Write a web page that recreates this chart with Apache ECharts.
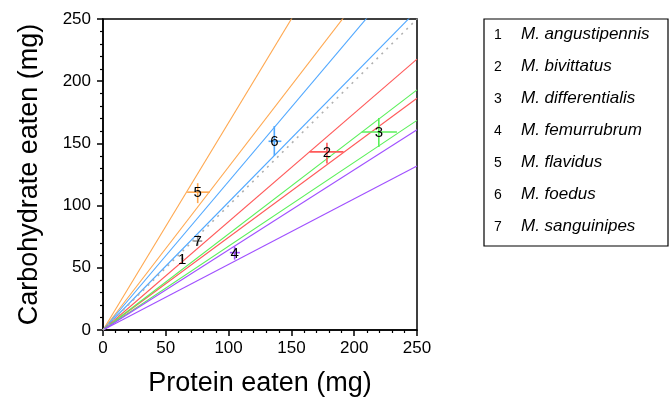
<!DOCTYPE html>
<html><head><meta charset="utf-8">
<script src="https://cdn.jsdelivr.net/npm/echarts@6/dist/echarts.min.js"></script>
<style>html,body{margin:0;padding:0;background:#fff}#c{width:670px;height:402px}</style>
</head><body><div id="c"></div>
<script>
// Species
const speciesNums = ['1','2','3','4','5','6','7'];
const speciesNames = ['M. angustipennis','M. bivittatus','M. differentialis','M. femurrubrum','M. flavidus','M. foedus','M. sanguinipes'];
const speciesColors = ['#999999','#ff5a5a','#5af05a','#a050ff','#ffa850','#50a8ff','#999999'];
// Mean protein (x) and carbohydrate (y) eaten, with error bar ranges
const meanP = [63, 178.3, 219.6, 104.8, 75.4, 136.4, 75.4];
const meanC = [57.4, 143.2, 159.2, 62.2, 110.8, 151.7, 71.5];
const pLow  = [62, 164.5, 206, 101, 67, 131.8, 72];
const pHigh = [64, 191.5, 234, 109, 85, 142, 79];
const cLow  = [55, 133.9, 147.2, 56.6, 102, 140, 68];
const cHigh = [60, 150.6, 170.5, 67, 118, 164, 75];
// Carbohydrate:protein ratio bounds (lines through origin)
const ratioSpecies = [4, 5, 1, 2, 3];   // indices into species arrays
const ratioUpper = [1.667, 1.194, 0.871, 0.772, 0.644];
const ratioLower = [1.311, 1.028, 0.745, 0.674, 0.527];
const equalRatio = 1.0;
const axisTicks = [0, 50, 100, 150, 200, 250];

const chart = echarts.init(document.getElementById('c'), null, {renderer:'canvas'});
const FONT = 'Liberation Sans, Arial, Helvetica, sans-serif';
const gridL = 103, gridT = 19, gridW = 314, gridH = 314;

function ray(r){ return [[0,0],[250, 250*r]]; }

const series = [];
ratioSpecies.forEach((si, k) => {
  [ratioUpper[k], ratioLower[k]].forEach(r => {
    series.push({type:'line', data: ray(r), symbol:'none', clip:true, silent:true,
      lineStyle:{color: speciesColors[si], width:1.1}, z:2});
  });
});
series.push({type:'line', data: ray(equalRatio), symbol:'none', clip:true, silent:true,
  lineStyle:{color:'#b0b0b0', width:1.6, type:[2,5]}, z:2});

const crossData = speciesNums.map((n,i)=>[meanP[i], meanC[i], pLow[i], pHigh[i], cLow[i], cHigh[i], i]);
series.push({
  type:'custom', clip:true, z:5, data: crossData,
  encode:{x:0, y:1},
  renderItem(params, api){
    const i = api.value(6);
    const c = api.coord([api.value(0), api.value(1)]);
    const l = api.coord([api.value(2), api.value(1)]);
    const r = api.coord([api.value(3), api.value(1)]);
    const b = api.coord([api.value(0), api.value(4)]);
    const t = api.coord([api.value(0), api.value(5)]);
    const col = speciesColors[i];
    return {type:'group', children:[
      {type:'line', shape:{x1:l[0], y1:l[1], x2:r[0], y2:r[1]}, style:{stroke:col, lineWidth:1.6}},
      {type:'line', shape:{x1:b[0], y1:b[1], x2:t[0], y2:t[1]}, style:{stroke:col, lineWidth:1.6}},
      {type:'text', x:c[0], y:c[1]+1, style:{text: speciesNums[i], align:'center', verticalAlign:'middle',
        font:'15px ' + FONT, fill:'#000'}, z2:10}
    ]};
  }
});

const axisCommon = {
  type:'value', min:0, max:250, interval:50,
  axisLine:{show:true, onZero:false, lineStyle:{color:'#000', width:1.5}},
  axisTick:{show:true, inside:false, length:6, lineStyle:{color:'#000', width:1.5}},
  minorTick:{show:true, splitNumber:5, length:3, lineStyle:{color:'#000', width:1.2}},
  splitLine:{show:false},
  axisLabel:{color:'#000', fontSize:17, fontFamily:FONT},
  nameTextStyle:{color:'#000', fontSize:27, fontFamily:FONT}
};

const legendChildren = [
  {type:'rect', shape:{x:484, y:19, width:184, height:227}, style:{fill:'#fff', stroke:'#000', lineWidth:1.2}}
];
speciesNums.forEach((n,i)=>{
  const y = 34 + 32*i;
  legendChildren.push({type:'text', x:498, y:y+1, style:{text:n, align:'center', verticalAlign:'middle', font:'14px '+FONT, fill:'#000'}});
  legendChildren.push({type:'text', x:521, y:y, style:{text:speciesNames[i], align:'left', verticalAlign:'middle', font:'italic 17px '+FONT, fill:'#000'}});
});

chart.setOption({
  animation:false,
  backgroundColor:'#fff',
  grid:{left:gridL, top:gridT, width:gridW, height:gridH, show:true, borderColor:'#000', borderWidth:1.5, backgroundColor:'transparent'},
  xAxis: Object.assign({}, axisCommon, {name:'Protein eaten (mg)', nameLocation:'middle', nameGap:40,
     axisLabel:Object.assign({}, axisCommon.axisLabel, {margin:10, formatter:v=>axisTicks.includes(v)?String(v):''})}),
  yAxis: Object.assign({}, axisCommon, {name:'Carbohydrate eaten (mg)', nameLocation:'middle', nameGap:60,
     axisLabel:Object.assign({}, axisCommon.axisLabel, {margin:12, formatter:v=>axisTicks.includes(v)?String(v):''})}),
  series: series,
  graphic: legendChildren
});
</script></body></html>
